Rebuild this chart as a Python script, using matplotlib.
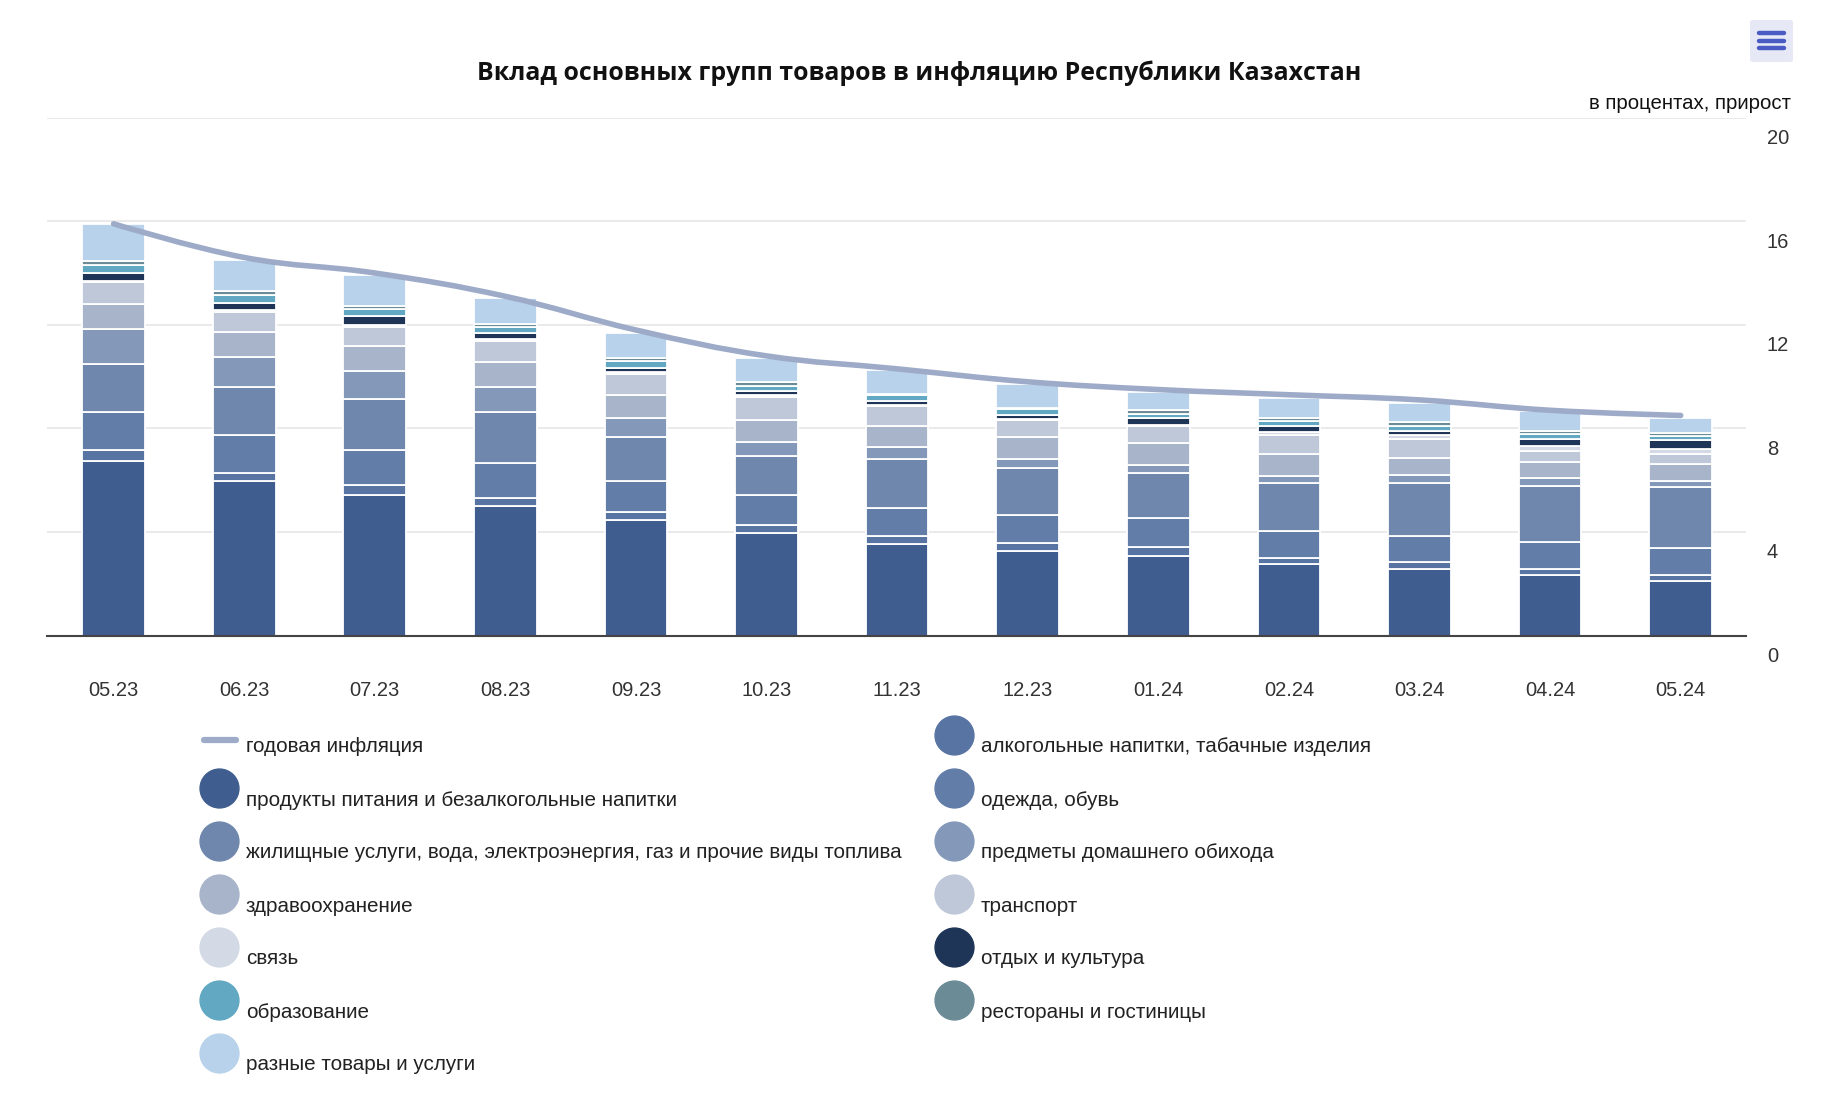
import numpy as np
import matplotlib
matplotlib.use("Agg")
from matplotlib import pyplot as plt
from matplotlib.path import Path
from matplotlib.patches import PathPatch, FancyBboxPatch
from matplotlib.lines import Line2D
from matplotlib.transforms import ScaledTranslation

plt.rcParams['font.family'] = ['Liberation Sans', 'DejaVu Sans']

months = ["05.23", "06.23", "07.23", "08.23", "09.23", "10.23", "11.23",
          "12.23", "01.24", "02.24", "03.24", "04.24", "05.24"]

# contributions, p.p. (bottom of the stack first)
food = [6.75, 5.97, 5.44, 5.00, 4.48, 3.97, 3.55, 3.25, 3.08, 2.77, 2.58, 2.35, 2.10]
alcohol = [0.40, 0.32, 0.36, 0.33, 0.30, 0.31, 0.31, 0.31, 0.35, 0.23, 0.25, 0.23, 0.24]
clothing = [1.50, 1.46, 1.38, 1.32, 1.20, 1.15, 1.08, 1.08, 1.10, 1.03, 1.02, 1.03, 1.04]
housing = [1.85, 1.86, 1.94, 1.98, 1.70, 1.52, 1.88, 1.82, 1.75, 1.87, 2.05, 2.17, 2.34]
household = [1.35, 1.16, 1.10, 0.97, 0.71, 0.54, 0.47, 0.36, 0.31, 0.28, 0.30, 0.30, 0.25]
health = [0.95, 0.95, 0.96, 0.98, 0.91, 0.83, 0.79, 0.85, 0.85, 0.82, 0.67, 0.62, 0.66]
transport = [0.87, 0.79, 0.75, 0.81, 0.80, 0.88, 0.78, 0.65, 0.65, 0.73, 0.74, 0.42, 0.37]
communication = [0.03, 0.06, 0.05, 0.05, 0.08, 0.10, 0.03, 0.03, 0.05, 0.12, 0.12, 0.20, 0.19]
recreation = [0.30, 0.26, 0.36, 0.23, 0.16, 0.14, 0.17, 0.17, 0.25, 0.24, 0.18, 0.26, 0.35]
education = [0.30, 0.31, 0.26, 0.26, 0.26, 0.20, 0.24, 0.23, 0.18, 0.18, 0.19, 0.20, 0.18]
restaurants = [0.17, 0.18, 0.14, 0.09, 0.11, 0.16, 0.04, 0.04, 0.13, 0.12, 0.13, 0.12, 0.12]
misc = [1.41, 1.18, 1.18, 1.03, 0.96, 0.91, 0.91, 0.92, 0.72, 0.77, 0.76, 0.77, 0.57]

annual = [15.9, 14.6, 14.0, 13.1, 11.8, 10.8, 10.3, 9.8, 9.5, 9.3, 9.1, 8.7, 8.5]

names = ["продукты питания и безалкогольные напитки",
         "алкогольные напитки, табачные изделия",
         "одежда, обувь",
         "жилищные услуги, вода, электроэнергия, газ и прочие виды топлива",
         "предметы домашнего обихода",
         "здравоохранение",
         "транспорт",
         "связь",
         "отдых и культура",
         "образование",
         "рестораны и гостиницы",
         "разные товары и услуги"]
line_name = "годовая инфляция"

colors = ["#3f5d8f", "#5874a3", "#617da8", "#6f87ac", "#8499ba", "#a8b4ca",
          "#bfc8d8", "#d3dae6", "#1e3557", "#62a8c2", "#6b8b96", "#b7d2ea"]
line_color = "#9dabc8"

series = [food, alcohol, clothing, housing, household, health, transport,
          communication, recreation, education, restaurants, misc]


def spline_path(xs, ys, smoothing=1.5, denom=2.5):
    # bezier spline in the manner of highcharts
    n = len(xs)
    left = [(xs[0], ys[0])]
    right = [(xs[0], ys[0])]
    for i in range(1, n - 1):
        x, y = xs[i], ys[i]
        lx = (smoothing * x + xs[i - 1]) / denom
        ly = (smoothing * y + ys[i - 1]) / denom
        rx = (smoothing * x + xs[i + 1]) / denom
        ry = (smoothing * y + ys[i + 1]) / denom
        if rx != lx:
            corr = ((ry - ly) * (rx - x)) / (rx - lx) + y - ry
            ly += corr
            ry += corr
        if ly > max(ys[i - 1], y):
            ly = max(ys[i - 1], y)
            ry = 2 * y - ly
        elif ly < min(ys[i - 1], y):
            ly = min(ys[i - 1], y)
            ry = 2 * y - ly
        if ry > max(ys[i + 1], y):
            ry = max(ys[i + 1], y)
            ly = 2 * y - ry
        elif ry < min(ys[i + 1], y):
            ry = min(ys[i + 1], y)
            ly = 2 * y - ry
        left.append((lx, ly))
        right.append((rx, ry))
    left.append((xs[-1], ys[-1]))
    right.append((xs[-1], ys[-1]))
    verts = [(xs[0], ys[0])]
    codes = [Path.MOVETO]
    for i in range(1, n):
        verts += [right[i - 1], left[i], (xs[i], ys[i])]
        codes += [Path.CURVE4] * 3
    return Path(verts, codes)


fig = plt.figure(figsize=(18.48, 11), dpi=100)
ax = fig.add_axes([47 / 1848, 464.4 / 1100, 1699 / 1848, 518 / 1100])

x = np.arange(len(months))
bottom = np.zeros(len(months))
for vals, c in zip(series, colors):
    ax.bar(x, vals, 0.48, bottom=bottom, color=c, edgecolor="white",
           linewidth=1.3, zorder=2)
    bottom += np.array(vals)

ax.add_patch(PathPatch(spline_path(list(x.astype(float)), annual), fill=False,
                       edgecolor=line_color, linewidth=4, capstyle="round",
                       zorder=3))

ax.set_xlim(-0.51, 12.5)
ax.set_ylim(0, 20)
ax.set_yticks([0, 4, 8, 12, 16, 20])
ax.yaxis.tick_right()
ax.grid(axis="y", color="#e6e6e6", linewidth=1.2, zorder=0)
ax.set_axisbelow(True)
for s in ["top", "left", "right"]:
    ax.spines[s].set_visible(False)
ax.spines["bottom"].set_color("#444444")
ax.spines["bottom"].set_linewidth(1.5)
ax.spines["bottom"].set_zorder(4)
ax.tick_params(axis="y", length=0, pad=15, labelsize=14.5, labelcolor="#333333")
ax.tick_params(axis="x", length=0, pad=33, labelsize=14.5, labelcolor="#333333")
ax.set_xticks(x)
ax.set_xticklabels(months)
for lab in ax.get_yticklabels():
    lab.set_horizontalalignment("left")
    lab.set_transform(lab.get_transform() +
                      ScaledTranslation(0, -0.19, fig.dpi_scale_trans))

fig.text(919 / 1848, 1 - 73 / 1100,
         "Вклад основных групп товаров в инфляцию Республики Казахстан",
         ha="center", va="center", fontsize=17.9, fontweight="bold",
         family=["Open Sans", "DejaVu Sans"], color="#111111")
fig.text(1791 / 1848, 1 - 104 / 1100, "в процентах, прирост",
         ha="right", va="center", fontsize=14.7, color="#111111")

# legend, two columns
left_items = [("line", line_color, line_name)]
left_items += [("dot", colors[i], names[i]) for i in [0, 3, 5, 7, 9, 11]]
right_items = [("dot", colors[i], names[i]) for i in [1, 2, 4, 6, 8, 10]]
for col_x, items in [(219, left_items), (954, right_items)]:
    for row, (kind, c, label) in enumerate(items):
        ty = 747 + 53 * row
        if kind == "line":
            fig.add_artist(Line2D([(col_x - 15) / 1848, (col_x + 17) / 1848],
                                  [1 - (ty - 7) / 1100] * 2, color=c,
                                  linewidth=4.5, solid_capstyle="round"))
        else:
            fig.add_artist(Line2D([col_x / 1848], [1 - (ty - 12) / 1100],
                                  marker="o", markersize=28, color=c,
                                  linestyle="none"))
        fig.text((col_x + 27) / 1848, 1 - ty / 1100, label, ha="left",
                 va="center", fontsize=14.9, color="#222222")

# menu button
fig.add_artist(FancyBboxPatch((1750 / 1848, 1 - 62 / 1100), 43 / 1848,
                              42 / 1100, boxstyle="round,pad=0,rounding_size=0.002",
                              facecolor="#e6e9f5", edgecolor="none"))
for yy in [33, 40.5, 48]:
    fig.add_artist(Line2D([1759 / 1848, 1784 / 1848], [1 - yy / 1100] * 2,
                          color="#4a5bc4", linewidth=3.2,
                          solid_capstyle="round"))

fig.savefig("out.png", dpi=100)
